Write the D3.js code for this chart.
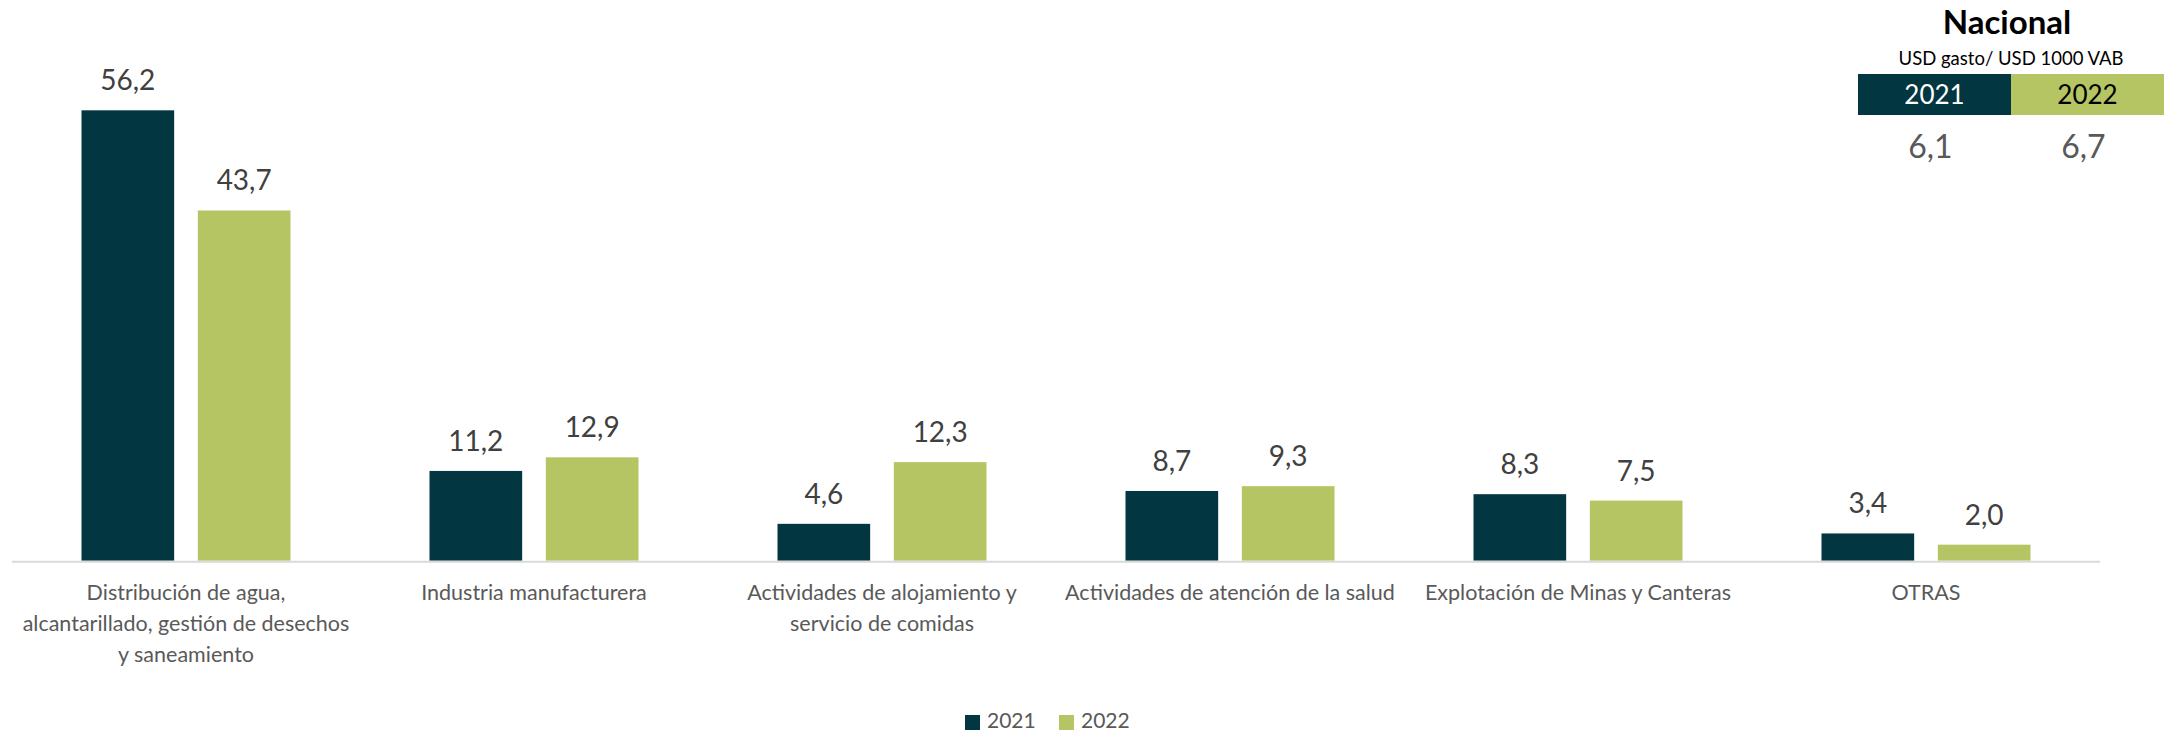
<!DOCTYPE html>
<html><head><meta charset="utf-8">
<script src="https://cdn.jsdelivr.net/npm/d3@7"></script>
<style>body{margin:0;background:#fff}svg{display:block}</style>
</head><body>
<svg id="chart" width="2171" height="733"></svg>
<script>
const categories = ["Distribución de agua,\nalcantarillado, gestión de desechos\ny saneamiento","Industria manufacturera","Actividades de alojamiento y\nservicio de comidas","Actividades de atención de la salud","Explotación de Minas y Canteras","OTRAS"];
const seriesNames = ["2021","2022"];
const values2021 = [56.2, 11.2, 4.6, 8.7, 8.3, 3.4];
const values2022 = [43.7, 12.9, 12.3, 9.3, 7.5, 2.0];
const nationalTitle = "Nacional";
const nationalUnit = "USD gasto/ USD 1000 VAB";
const nationalValues = [6.1, 6.7];

const colors = {"2021":"#023641","2022":"#B5C563"};
const fmt = v => d3.format(".1f")(v).replace(".", ",");
const svg = d3.select("#chart");
const font = "Lato, 'Open Sans', sans-serif";

const x0 = d3.scaleBand().domain(categories).range([12, 2100]).padding(0);
const x1 = d3.scaleBand().domain(seriesNames).range([69.5, 278.5]).paddingInner(0.2036).paddingOuter(0);
const y = d3.scaleLinear().domain([0, 60]).range([560.7, 560.7 - 60*8.014]);

const data = categories.map((c,i)=>({cat:c, vals:[{s:"2021",v:values2021[i]},{s:"2022",v:values2022[i]}]}));

const g = svg.selectAll("g.cat").data(data).join("g").attr("class","cat")
  .attr("transform", d=>`translate(${x0(d.cat)},0)`);
g.selectAll("rect").data(d=>d.vals).join("rect")
  .attr("x", d=>x1(d.s)).attr("width", x1.bandwidth())
  .attr("y", d=>y(d.v)).attr("height", d=>y(0)-y(d.v))
  .attr("fill", d=>colors[d.s]);
g.selectAll("text.val").data(d=>d.vals).join("text").attr("class","val")
  .attr("x", d=>x1(d.s)+x1.bandwidth()/2).attr("y", d=>y(d.v)-20)
  .attr("text-anchor","middle").attr("font-family",font).attr("font-size",28)
  .attr("fill","#404040").text(d=>fmt(d.v));

// axis line
svg.append("line").attr("x1",12).attr("x2",2100).attr("y1",y(0)+1).attr("y2",y(0)+1)
  .attr("stroke","#D9D9D9").attr("stroke-width",2);

// category labels
g.each(function(d){
  const lines = d.cat.split("\n");
  const t = d3.select(this).append("text").attr("text-anchor","middle")
    .attr("font-family",font).attr("font-size",21.5).attr("fill","#595959");
  lines.forEach((l,i)=>t.append("tspan").attr("x", x0.bandwidth()/2).attr("y", 600 + i*31).text(l));
});

// legend
const leg = svg.append("g");
const legX = [965, 1059];
seriesNames.forEach((s,i)=>{
  leg.append("rect").attr("x",legX[i]).attr("y",715).attr("width",15).attr("height",15).attr("fill",colors[s]);
  leg.append("text").attr("x",legX[i]+22).attr("y",728).attr("font-family",font).attr("font-size",21)
    .attr("fill","#595959").text(s);
});

// national panel
const p = svg.append("g");
p.append("text").attr("x",2007).attr("y",34).attr("text-anchor","middle").attr("font-family",font)
  .attr("font-weight","bold").attr("font-size",33).attr("fill","#000").text(nationalTitle);
p.append("text").attr("x",2011).attr("y",65).attr("text-anchor","middle").attr("font-family",font)
  .attr("font-size",18.5).attr("fill","#000").text(nationalUnit);
const bx = d3.scaleBand().domain(seriesNames).range([1858, 2164]);
seriesNames.forEach((s,i)=>{
  p.append("rect").attr("x",bx(s)).attr("y",74).attr("width",bx.bandwidth()).attr("height",41).attr("fill",colors[s]);
  p.append("text").attr("x",bx(s)+bx.bandwidth()/2).attr("y",104).attr("text-anchor","middle")
    .attr("font-family",font).attr("font-size",26).attr("fill", i===0?"#fff":"#000").text(s);
  p.append("text").attr("x",bx(s)+bx.bandwidth()/2 - 4).attr("y",158).attr("text-anchor","middle")
    .attr("font-family",font).attr("font-size",32).attr("fill","#595959").text(fmt(nationalValues[i]));
});
</script>
</body></html>
